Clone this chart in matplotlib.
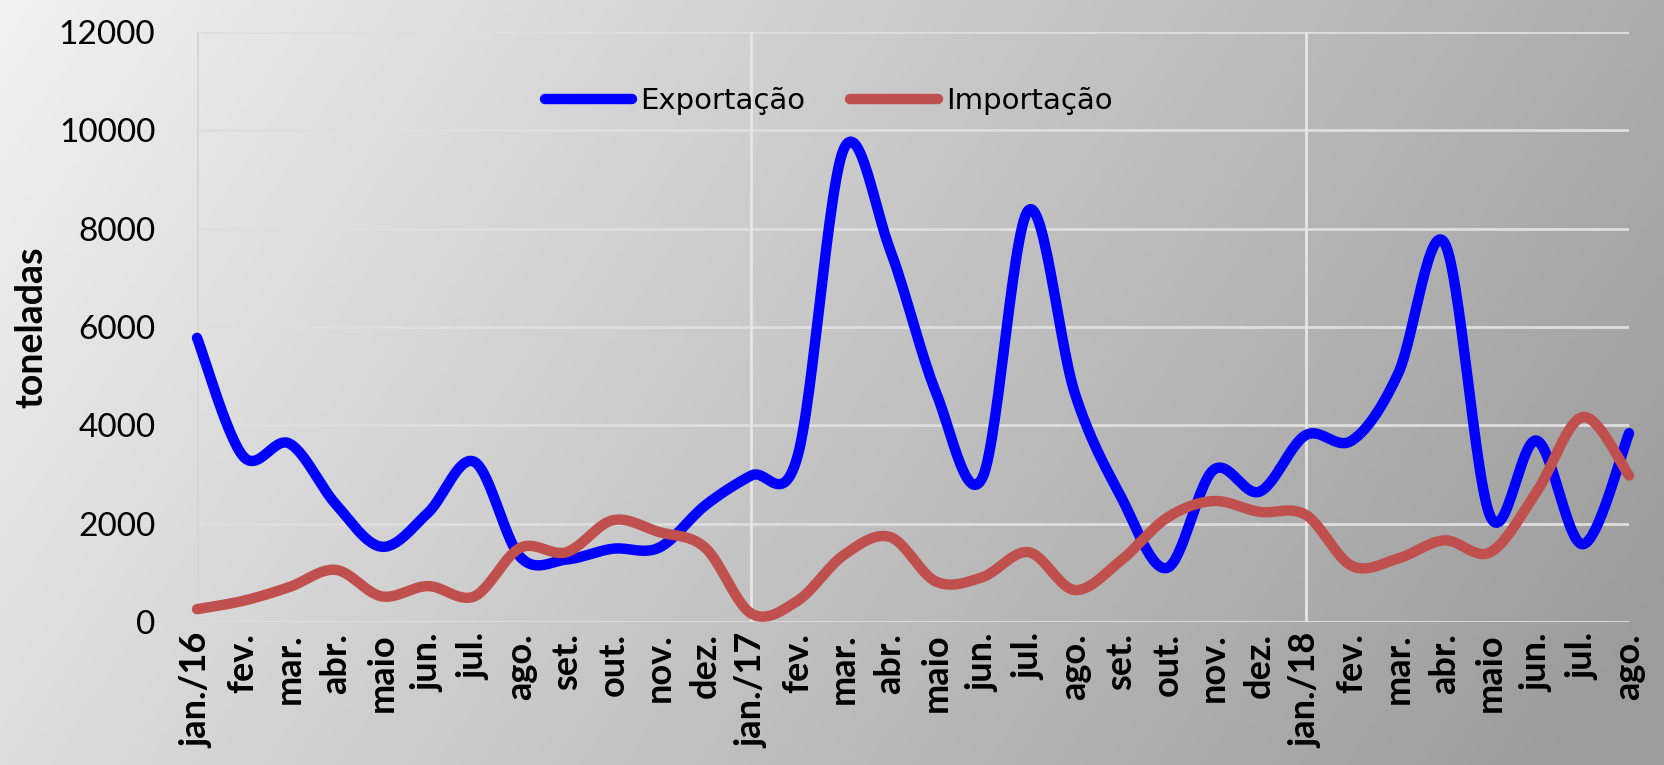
import numpy as np
import matplotlib
matplotlib.use('Agg')
import matplotlib.pyplot as plt
from matplotlib.colors import LinearSegmentedColormap

###############################################################################
#### Data
###############################################################################
months = ['jan./16', 'fev.', 'mar.', 'abr.', 'maio', 'jun.', 'jul.', 'ago.',
          'set.', 'out.', 'nov.', 'dez.',
          'jan./17', 'fev.', 'mar.', 'abr.', 'maio', 'jun.', 'jul.', 'ago.',
          'set.', 'out.', 'nov.', 'dez.',
          'jan./18', 'fev.', 'mar.', 'abr.', 'maio', 'jun.', 'jul.', 'ago.']

exportacao = [5780, 3370, 3630, 2400, 1530, 2220, 3260, 1320,
              1270, 1490, 1510, 2370,
              2980, 3370, 9620, 7580, 4660, 2930, 8380, 4660,
              2550, 1100, 3090, 2650,
              3800, 3690, 5050, 7720, 2140, 3690, 1580, 3840]

importacao = [260, 430, 710, 1060, 520, 730, 520, 1510,
              1420, 2070, 1830, 1510,
              170, 430, 1360, 1730, 820, 910, 1420, 650,
              1250, 2120, 2460, 2240,
              2180, 1140, 1290, 1660, 1420, 2650, 4170, 2980]

y_ticks = [0, 2000, 4000, 6000, 8000, 10000, 12000]

###############################################################################
#### Smoothed line like the spreadsheet one
###############################################################################
def smooth(x, y, n=30):
    x = np.asarray(x, float)
    y = np.asarray(y, float)
    px = np.concatenate(([x[0]], x, [x[-1]]))
    py = np.concatenate(([y[0]], y, [y[-1]]))
    xs, ys = [], []
    t = np.linspace(0, 1, n)
    for i in range(1, len(px) - 2):
        x0, x3 = px[i], px[i + 1]
        y0, y3 = py[i], py[i + 1]
        x1 = x0 + (px[i + 1] - px[i - 1]) / 6.0
        y1 = y0 + (py[i + 1] - py[i - 1]) / 6.0
        x2 = x3 - (px[i + 2] - px[i]) / 6.0
        y2 = y3 - (py[i + 2] - py[i]) / 6.0
        b0 = (1 - t) ** 3
        b1 = 3 * (1 - t) ** 2 * t
        b2 = 3 * (1 - t) * t ** 2
        b3 = t ** 3
        xs.append(b0 * x0 + b1 * x1 + b2 * x2 + b3 * x3)
        ys.append(b0 * y0 + b1 * y1 + b2 * y2 + b3 * y3)
    return np.concatenate(xs), np.concatenate(ys)

###############################################################################
#### Figure
###############################################################################
fig = plt.figure(figsize=(16.64, 7.65), dpi=100)

# gradient background
bg = fig.add_axes([0, 0, 1, 1], zorder=-10)
gx, gy = np.meshgrid(np.linspace(0, 1, 400), np.linspace(0, 1, 200))
grad = 0.85 * gx + 0.25 * gy
cmap = LinearSegmentedColormap.from_list('bg', ['#f1f1f1', '#9c9c9c'])
bg.imshow(grad, cmap=cmap, aspect='auto', extent=[0, 1, 0, 1],
          vmin=0, vmax=1.05)
bg.axis('off')

ax = fig.add_axes([0.1184, 0.187, 0.979 - 0.1184, 0.958 - 0.187])
ax.set_facecolor('none')

x = np.arange(len(months))
sx, sy = smooth(x, exportacao)
ax.plot(sx, sy, color='#0000ff', linewidth=7.5, solid_capstyle='round',
        label='Exportação', clip_on=False, zorder=3)
sx, sy = smooth(x, importacao)
ax.plot(sx, sy, color='#c0504d', linewidth=7.5, solid_capstyle='round',
        label='Importação', clip_on=False, zorder=3)

ax.set_xlim(0, len(months) - 1)
ax.set_ylim(0, 12000)
ax.set_yticks(y_ticks)
ax.set_yticklabels([str(v) for v in y_ticks], fontsize=24, family='Lato')
ax.set_xticks(x)
ax.set_xticklabels(months, rotation=90, fontsize=26, fontweight='bold',
                   family='Lato')
ax.tick_params(axis='both', length=0)
ax.tick_params(axis='y', pad=30)
ax.tick_params(axis='x', pad=8)

# grid
for v in y_ticks:
    ax.axhline(v, color='#dedede', linewidth=2, zorder=1)
for i in [12, 24]:
    ax.axvline(i, color='#e6e6e6', linewidth=2, zorder=1)
for s in ax.spines.values():
    s.set_visible(False)
ax.axvline(0, color='#d6d6d6', linewidth=2, zorder=1)

ax.set_ylabel('toneladas', fontsize=27, fontweight='bold', family='Lato')
ax.yaxis.set_label_coords(-0.104, 0.5)

leg = ax.legend(loc='center', bbox_to_anchor=(0.441, 0.883), ncol=2,
                frameon=False, fontsize=21, handlelength=3.0,
                handletextpad=0.27, columnspacing=1.55)

plt.savefig('out.png', dpi=100)
